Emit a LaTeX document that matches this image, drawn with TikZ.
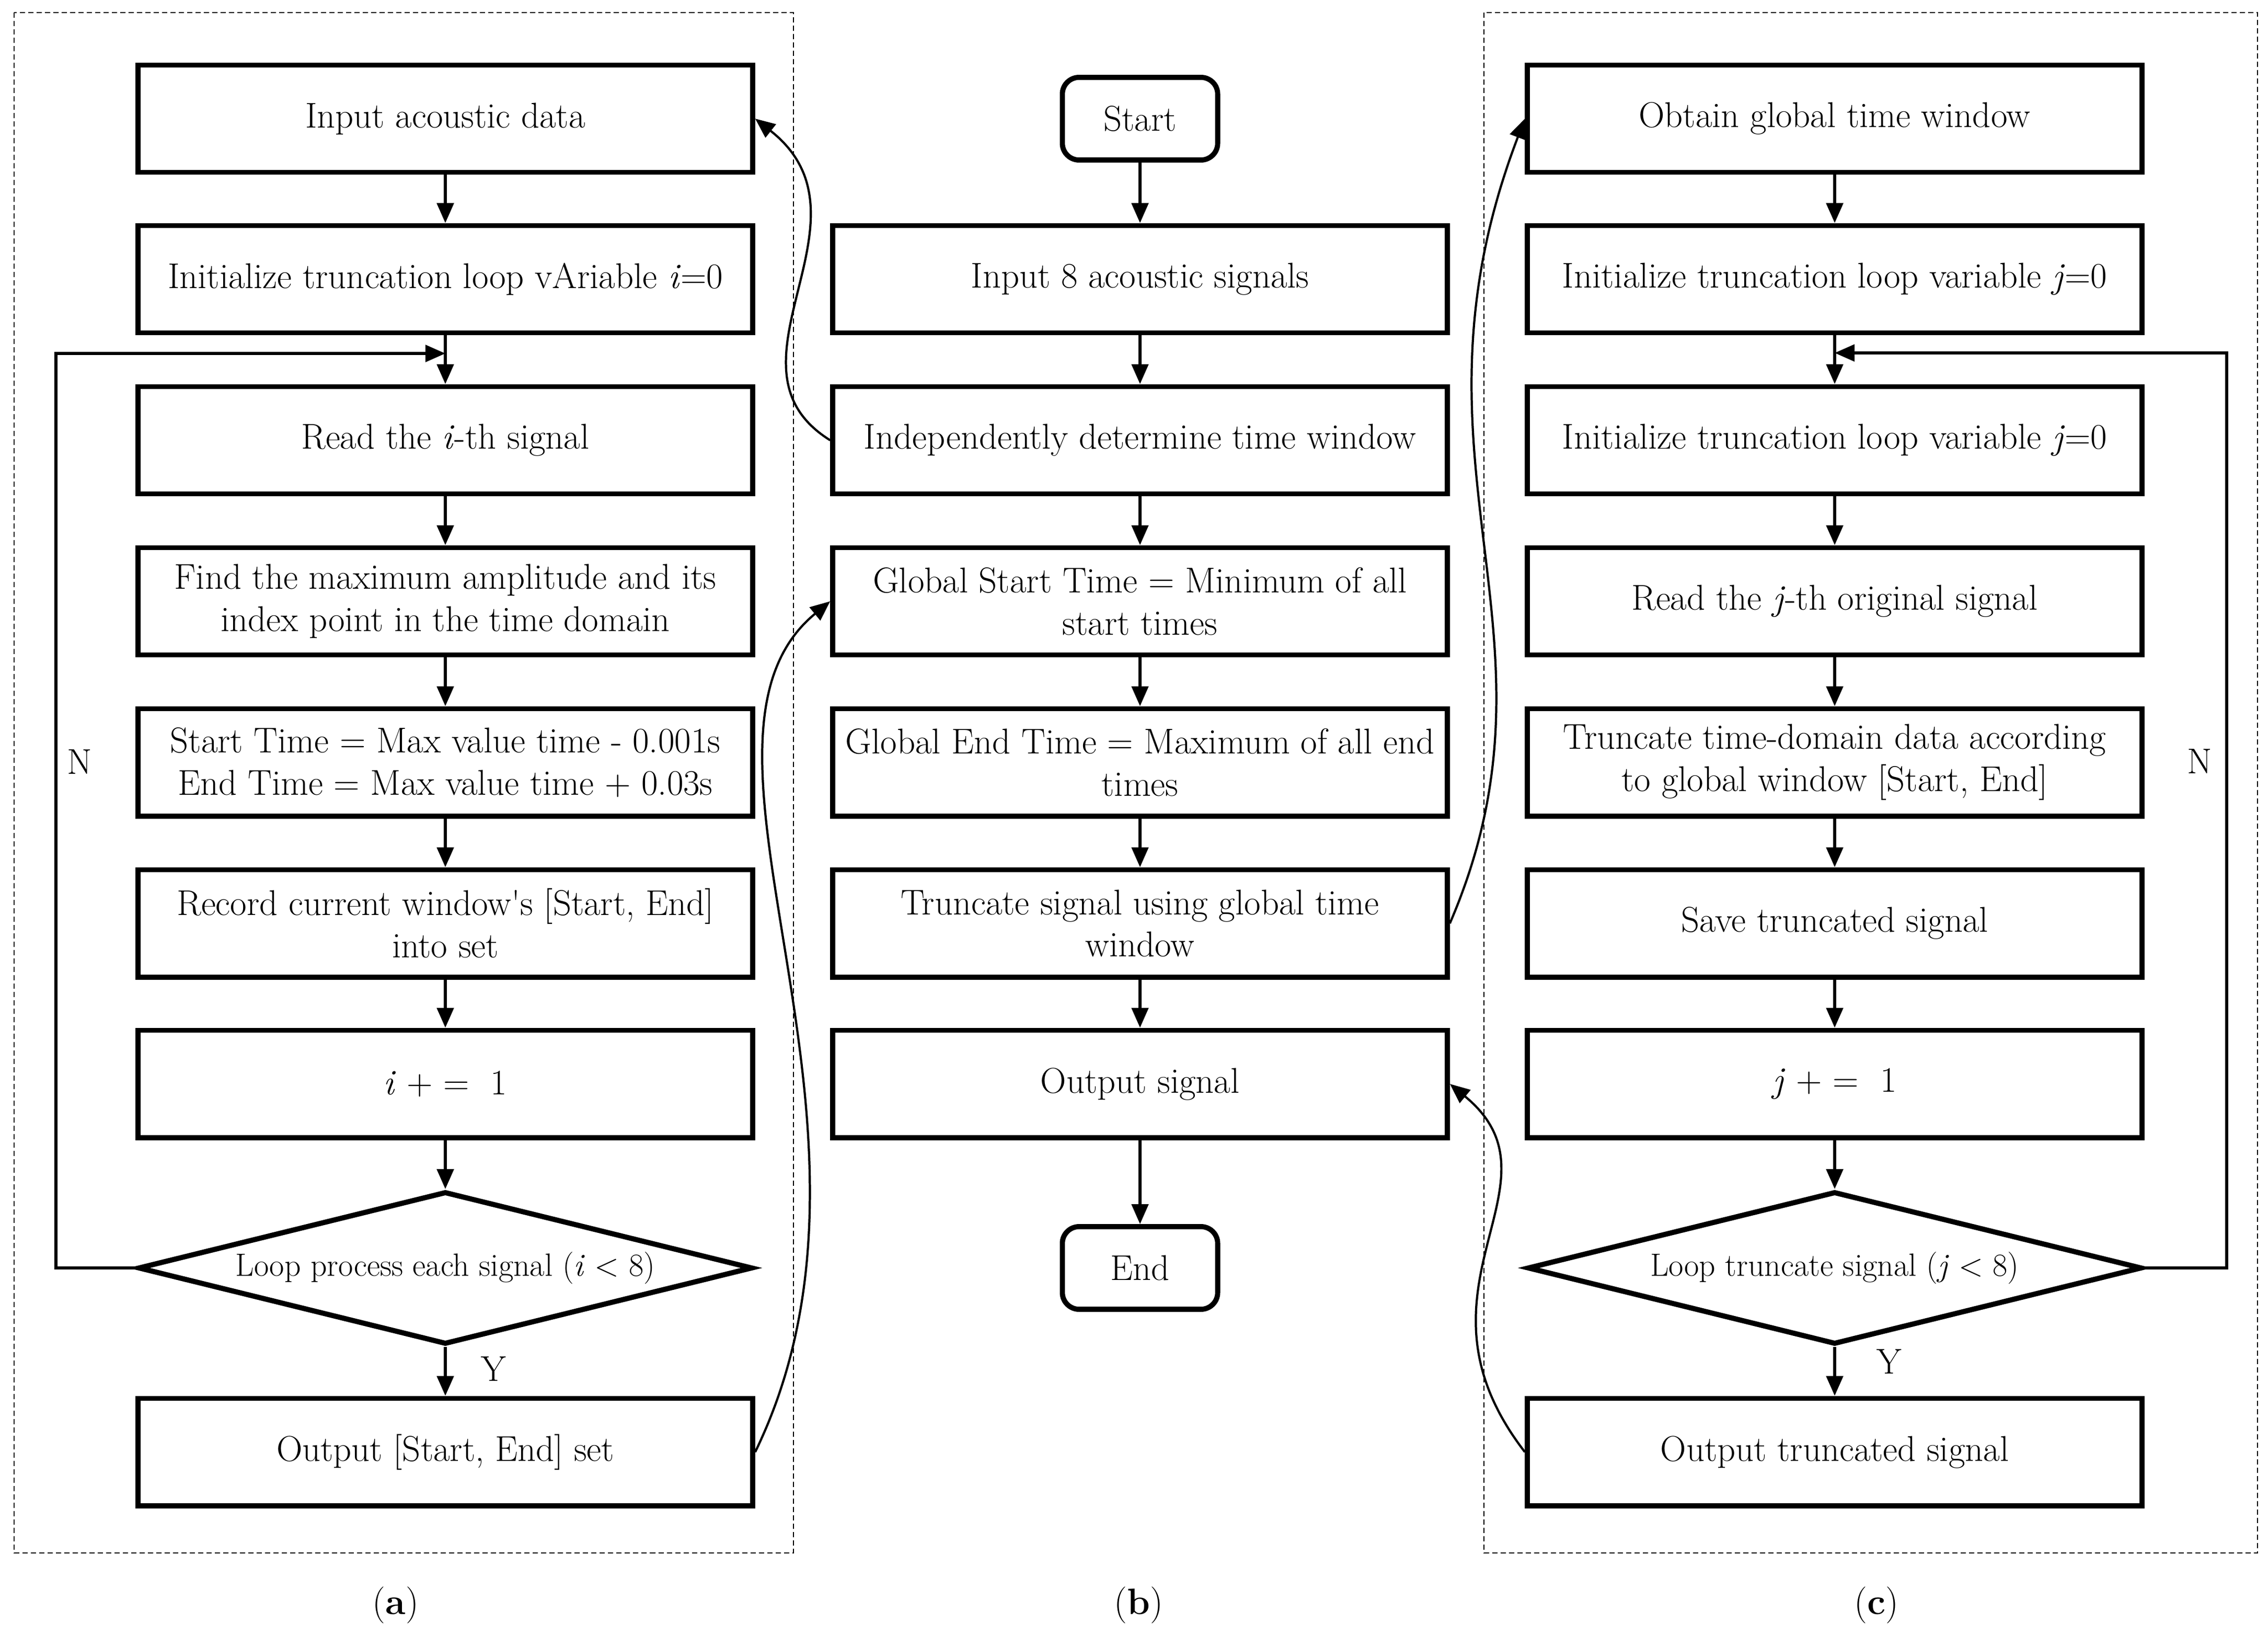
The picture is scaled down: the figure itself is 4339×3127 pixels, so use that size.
\documentclass[tikz,border=0pt]{standalone}
\usetikzlibrary{arrows.meta,shapes.geometric,calc}
\begin{document}
\begin{tikzpicture}[x=0.01cm,y=-0.01cm,
  txt/.style={font=\fontsize{19.5}{23}\selectfont},
  box/.style={txt,draw,line width=2.8pt,minimum width=11.75cm,minimum height=2.05cm,inner sep=0pt,align=center},
  term/.style={txt,draw,line width=2.8pt,rounded corners=0.32cm,minimum width=2.97cm,minimum height=1.58cm,inner sep=0pt},
  dec/.style={draw,diamond,aspect=3.96,line width=2.8pt,minimum width=11.75cm,minimum height=2.92cm,inner sep=0pt,font=\fontsize{17.5}{21}\selectfont},
  arr/.style={line width=1.5pt,-{Triangle[length=0.38cm,width=0.32cm]}},
  carr/.style={line width=1.2pt,-{Triangle[length=0.38cm,width=0.32cm]}},
  frame/.style={draw,line width=0.75pt,dash pattern=on 0.1cm off 0.06cm},
  lab/.style={font=\fontsize{20}{24}\selectfont}
]
\useasboundingbox (0,0) rectangle (4339,3127);

% dashed frames
\draw[frame] (27,24) rectangle (1518,2970);
\draw[frame] (2839,24) rectangle (4319,2970);

% column (a)
\node[box] (a1) at (852,227) {Input acoustic data};
\node[box] (a2) at (852,534) {Initialize truncation loop vAriable \textit{i}=0};
\node[box] (a3) at (852,842) {Read the \textit{i}-th signal};
\node[box] (a4) at (852,1150) {Find the maximum amplitude and its\\index point in the time domain};
\node[box] (a5) at (852,1458) {Start Time = Max value time - 0.001s\\End Time = Max value time + 0.03s};
\node[box] (a6) at (852,1766) {Record current window\textquotesingle s [Start, End]\\into set};
\node[box] (a7) at (852,2073) {\textit{i} + =\ \ 1};
\node[dec] (ad) at (852,2425) {Loop process each signal (\textit{i} \textless{} 8)};
\node[box] (a9) at (852,2777) {Output [Start, End] set};

% column (b)
\node[term] (bs) at (2181,227) {Start};
\node[box] (b2) at (2181,534) {Input 8 acoustic signals};
\node[box] (b3) at (2181,842) {Independently determine time window};
\node[box] (b4) at (2181,1150) {Global Start Time = Minimum of all\\start times};
\node[box] (b5) at (2181,1458) {Global End Time = Maximum of all end\\times};
\node[box] (b6) at (2181,1766) {Truncate signal using global time\\window};
\node[box] (b7) at (2181,2073) {Output signal};
\node[term] (be) at (2181,2425) {End};

% column (c)
\node[box] (c1) at (3510,227) {Obtain global time window};
\node[box] (c2) at (3510,534) {Initialize truncation loop variable \textit{j}=0};
\node[box] (c3) at (3510,842) {Initialize truncation loop variable \textit{j}=0};
\node[box] (c4) at (3510,1150) {Read the \textit{j}-th original signal};
\node[box] (c5) at (3510,1458) {Truncate time-domain data according\\to global window [Start, End]};
\node[box] (c6) at (3510,1766) {Save truncated signal};
\node[box] (c7) at (3510,2073) {\textit{j} + =\ \ 1};
\node[dec] (cd) at (3510,2425) {Loop truncate signal (\textit{j} \textless{} 8)};
\node[box] (c9) at (3510,2777) {Output truncated signal};

% straight arrows (a)
\draw[arr] (a1) -- (a2);
\draw[arr] (a2) -- (a3);
\draw[arr] (a3) -- (a4);
\draw[arr] (a4) -- (a5);
\draw[arr] (a5) -- (a6);
\draw[arr] (a6) -- (a7);
\draw[arr] (a7) -- (ad);
\draw[arr] (ad) -- (a9);
% straight arrows (b)
\draw[arr] (bs) -- (b2);
\draw[arr] (b2) -- (b3);
\draw[arr] (b3) -- (b4);
\draw[arr] (b4) -- (b5);
\draw[arr] (b5) -- (b6);
\draw[arr] (b6) -- (b7);
\draw[arr] (b7) -- (be);
% straight arrows (c)
\draw[arr] (c1) -- (c2);
\draw[arr] (c2) -- (c3);
\draw[arr] (c3) -- (c4);
\draw[arr] (c4) -- (c5);
\draw[arr] (c5) -- (c6);
\draw[arr] (c6) -- (c7);
\draw[arr] (c7) -- (cd);
\draw[arr] (cd) -- (c9);

% loops
\coordinate (ja) at (852,676);
\coordinate (lxa) at (107,2425);
\draw[arr] (ad.west) -- (lxa) |- (ja);
\coordinate (jc) at (3510,675);
\coordinate (lxc) at (4260,2425);
\draw[arr] (cd.east) -- (lxc) |- (jc);

% loop labels
\node[txt] (na) at (152,1457) {N};
\node[txt] (nc) at (4208,1456) {N};
\node[txt] (ya) at (944,2618) {Y};
\node[txt] (yc) at (3614,2604) {Y};

% curved connectors
\draw[carr] (b3.west) .. controls (1360,700) and (1690,420) .. (a1.east);
\draw[carr] (a9.east) .. controls (1750,2150) and (1260,1420) .. (b4.west);
\draw[carr] (b6.east) .. controls (3014,1208) and (2664,890) .. (c1.west);
\draw[carr] (c9.west) .. controls (2673,2461) and (3007,2265) .. (b7.east);

% sub-figure labels
\node[lab] (la) at (757,3070) {(\textbf{a})};
\node[lab] (lb) at (2178,3070) {(\textbf{b})};
\node[lab] (lc) at (3590,3070) {(\textbf{c})};
\end{tikzpicture}
\end{document}
